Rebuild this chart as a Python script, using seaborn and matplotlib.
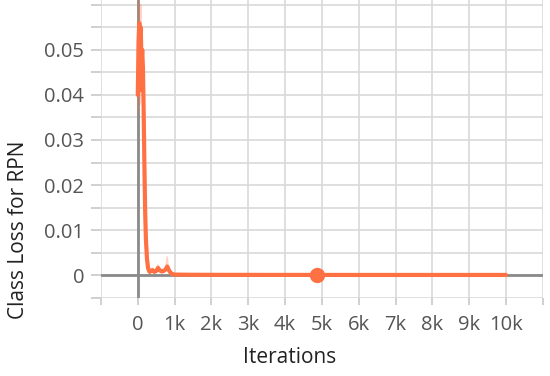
import numpy as np
import pandas as pd
import matplotlib
matplotlib.use("Agg")
import matplotlib.pyplot as plt
import seaborn as sns

# smoothed curve
iters = [0, 20, 40, 60, 80, 100, 120, 140, 160, 180, 200, 220, 250, 280, 320,
         360, 400, 450, 500, 550, 600, 650, 700, 750, 800, 850, 900, 950, 1000,
         1500, 2000, 2500, 3000, 3500, 4000, 4500, 5000, 5500, 6000, 6500, 7000,
         7500, 8000, 8500, 9000, 9500, 10000]
loss = [0.040, 0.052, 0.056, 0.041, 0.055, 0.047, 0.050, 0.046, 0.036, 0.024,
        0.014, 0.008, 0.0035, 0.0015, 0.0007, 0.0009, 0.0011, 0.0007, 0.0009,
        0.0016, 0.0010, 0.0008, 0.0009, 0.0012, 0.0019, 0.0010, 0.0004, 0.0002,
        0.0001, 0.00006, 0.00005, 0.00004, 0.00004, 0.00003, 0.00003, 0.00003,
        0.00003, 0.00002, 0.00002, 0.00002, 0.00002, 0.00002, 0.00002, 0.00002,
        0.00002, 0.00002, 0.00002]

# raw (unsmoothed) curve, drawn faint
raw_iters = [0, 10, 20, 35, 50, 65, 80, 95, 110, 125, 140, 155, 170, 185, 200,
             220, 250, 280, 320, 360, 400, 450, 500, 550, 600, 650, 700, 750,
             800, 820, 850, 900, 950, 1000, 1500, 2000, 3000, 4000, 5000, 6000,
             7000, 8000, 9000, 10000]
raw_loss = [0.036, 0.045, 0.062, 0.050, 0.058, 0.038, 0.060, 0.044, 0.052,
            0.041, 0.048, 0.040, 0.030, 0.020, 0.012, 0.006, 0.0025, 0.0010,
            0.0004, 0.0012, 0.0015, 0.0005, 0.0012, 0.0022, 0.0008, 0.0006,
            0.0012, 0.0010, 0.0040, 0.0012, 0.0006, 0.0003, 0.0001, 0.0001,
            0.00008, 0.00006, 0.00004, 0.00003, 0.00003, 0.00002, 0.00002,
            0.00002, 0.00002, 0.00002]

marker_iter = [4870]
marker_loss = [0.0]

xticks = list(range(-1000, 12000, 1000))
xtick_labels = ["", "0", "1k", "2k", "3k", "4k", "5k", "6k", "7k", "8k", "9k", "10k", ""]
yticks = [-0.005, 0.0, 0.005, 0.01, 0.015, 0.02, 0.025, 0.03, 0.035, 0.04, 0.045, 0.05, 0.055, 0.06]
ytick_labels = ["", "0", "", "0.01", "", "0.02", "", "0.03", "", "0.04", "", "0.05", "", ""]

sns.set_style("whitegrid")
plt.rcParams['font.family'] = ['Open Sans', 'DejaVu Sans']

orange = "#ff7043"

fig = plt.figure(figsize=(5.5, 3.76), dpi=100)
ax = fig.add_axes([0.1836, 1 - 298 / 376, 0.987 - 0.1836, 298 / 376])

df = pd.DataFrame({"Iterations": iters, "loss": loss})
raw = pd.DataFrame({"Iterations": raw_iters, "loss": raw_loss})

ax.axhline(0, color="#8a8a8a", lw=2, zorder=1)
ax.axvline(0, color="#8a8a8a", lw=2, zorder=1)
sns.lineplot(data=raw, x="Iterations", y="loss", ax=ax, color=orange, alpha=0.3, lw=1.2, zorder=2)
sns.lineplot(data=df, x="Iterations", y="loss", ax=ax, color=orange, lw=3, zorder=3)
ax.plot(marker_iter, marker_loss, "o", color=orange, ms=10, zorder=4)

ax.set_xlim(-1000, 11000)
ax.set_ylim(-0.0051, 0.0611)
ax.set_xticks(xticks)
ax.set_xticklabels(xtick_labels)
ax.set_yticks(yticks)
ax.set_yticklabels(ytick_labels)
ax.grid(True, color="#d9d9d9", lw=1.2)
for s in ax.spines.values():
    s.set_visible(False)
ax.tick_params(axis="both", which="both", colors="#c8c8c8", labelcolor="#555555", labelsize=14.5)
ax.tick_params(axis="y", length=7, width=1.2, pad=5, left=True)
ax.tick_params(axis="x", length=5, width=1.2, pad=7, bottom=True)

ax.set_xlabel("Iterations", fontsize=15, color="#222222")
ax.set_ylabel("Class Loss for RPN", fontsize=15, color="#222222")
ax.xaxis.set_label_coords(0.428, -0.163)
ax.yaxis.set_label_coords(-0.163, 0.228)

fig.savefig("out.png", dpi=100)
